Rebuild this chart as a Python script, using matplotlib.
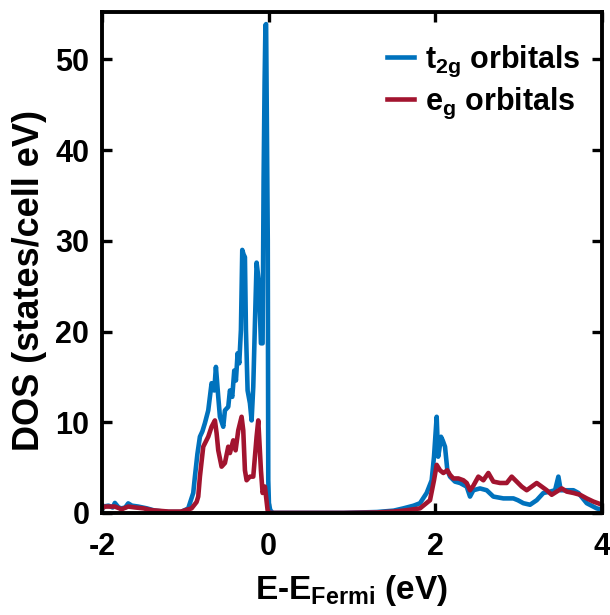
import matplotlib
matplotlib.use("Agg")
import matplotlib.pyplot as plt

# Projected DOS, energies relative to E_Fermi (eV), DOS in states/cell eV
E_T2G = [-2.0, -1.984, -1.92, -1.87, -1.844, -1.80, -1.764, -1.72, -1.684, -1.64,
         -1.564, -1.46, -1.364, -1.2, -1.05, -0.964, -0.904, -0.884, -0.854, -0.824,
         -0.794, -0.764, -0.724, -0.684, -0.652, -0.632, -0.604, -0.584, -0.544,
         -0.524, -0.484, -0.464, -0.436, -0.412, -0.392, -0.372, -0.352, -0.332,
         -0.316, -0.30, -0.284, -0.272, -0.252, -0.224, -0.204, -0.184, -0.164,
         -0.144, -0.130, -0.116, -0.092, -0.072, -0.060, -0.048, -0.038, -0.030,
         -0.010, -0.004, 0.004, 0.02, 0.05, 0.4, 0.9, 1.3, 1.5, 1.616, 1.74,
         1.816, 1.896, 1.956, 1.984, 2.016, 2.034, 2.048, 2.068, 2.088, 2.116,
         2.144, 2.176, 2.236, 2.296, 2.376, 2.416, 2.456, 2.536, 2.616, 2.696,
         2.816, 2.936, 2.99, 3.056, 3.136, 3.216, 3.296, 3.376, 3.436, 3.476,
         3.504, 3.576, 3.656, 3.716, 3.816, 3.936, 4.0]
DOS_T2G = [0.3, 0.7, 0.8, 0.6, 1.1, 0.6, 0.5, 0.6, 1.05, 0.8,
           0.7, 0.5, 0.25, 0.1, 0.1, 0.5, 2.2, 4.0, 6.5, 8.4,
           9.0, 9.9, 11.3, 14.3, 13.5, 16.1, 12.8, 10.6, 9.5,
           11.3, 11.7, 13.5, 12.8, 15.7, 14.6, 17.6, 16.5, 20.2,
           29.0, 28.5, 28.2, 20.2, 13.5, 12.1, 10.2, 13.9, 20.9,
           27.6, 26.5, 25.3, 18.7, 18.7, 36.7, 47.5, 53.8, 53.9,
           30.0, 3.6, 1.0, 0.3, 0.0, 0.0, 0.0, 0.1, 0.25, 0.5, 0.8,
           1.07, 2.2, 3.6, 6.2, 10.6, 6.2, 7.0, 8.4, 8.0, 7.3,
           4.7, 4.0, 3.45, 3.3, 2.9, 1.8, 2.5, 2.7, 2.5, 1.8,
           1.6, 1.6, 1.4, 1.07, 0.9, 1.4, 2.2, 2.35, 2.5, 4.0,
           2.5, 2.5, 2.5, 2.2, 1.07, 0.5, 0.35]

E_EG = [-2.0, -1.96, -1.844, -1.764, -1.684, -1.60, -1.50, -1.40, -1.2, -1.05,
        -0.924, -0.864, -0.844, -0.824, -0.784, -0.724, -0.684, -0.644, -0.624,
        -0.604, -0.564, -0.524, -0.484, -0.464, -0.424, -0.396, -0.364, -0.324,
        -0.304, -0.284, -0.264, -0.224, -0.184, -0.144, -0.124, -0.092, -0.072,
        -0.044, -0.012, 0.01, 0.05, 0.4, 0.9, 1.3, 1.5, 1.616, 1.74, 1.816,
        1.936, 1.984, 2.016, 2.056, 2.096, 2.144, 2.176, 2.216, 2.276, 2.336,
        2.376, 2.416, 2.456, 2.516, 2.576, 2.636, 2.696, 2.776, 2.856, 2.916,
        2.976, 3.036, 3.096, 3.156, 3.216, 3.276, 3.336, 3.396, 3.456, 3.516,
        3.576, 3.656, 3.736, 3.816, 3.896, 4.0]
DOS_EG = [0.5, 0.7, 0.7, 0.4, 0.7, 0.6, 0.5, 0.3, 0.15, 0.15,
          0.5, 1.2, 1.8, 4.0, 7.3, 8.4, 9.5, 10.2, 8.8,
          6.9, 5.1, 5.5, 7.3, 6.6, 8.0, 6.9, 9.1, 10.6,
          9.1, 4.7, 3.6, 4.0, 4.0, 8.4, 10.2, 4.7, 2.2,
          2.9, 0.3, 0.0, 0.0, 0.0, 0.0, 0.05, 0.15, 0.25, 0.4, 0.5,
          1.4, 3.6, 5.3, 4.7, 4.4, 4.7, 4.2, 3.8, 3.8, 3.6,
          3.3, 2.5, 3.0, 4.0, 3.6, 4.4, 3.45, 3.3, 3.3, 4.0,
          3.45, 2.9, 2.5, 2.9, 3.3, 2.9, 2.5, 2.0, 2.35, 2.7,
          2.35, 2.2, 2.0, 1.6, 1.25, 0.9]

C_T2G = "#0072BD"
C_EG = "#A2142F"

plt.rcParams.update({
    "font.family": ["Liberation Sans", "DejaVu Sans"],
    "font.weight": "bold",
    "axes.labelweight": "bold",
    "axes.unicode_minus": False,
    "mathtext.fontset": "custom",
    "mathtext.rm": "Liberation Sans:bold",
    "mathtext.it": "Liberation Sans:bold",
    "mathtext.bf": "Liberation Sans:bold",
    "mathtext.default": "rm",
})

fig = plt.figure(figsize=(6.1, 6.15), dpi=100)
ax = fig.add_axes([0.167, 0.166, 0.820, 0.814])

ax.plot(E_T2G, DOS_T2G, color=C_T2G, lw=3.3, label=r"t$_{2g}$ orbitals")
ax.plot(E_EG, DOS_EG, color=C_EG, lw=3.3, label=r"e$_{g}$ orbitals")

ax.set_xlim(-2, 4)
ax.set_ylim(0, 55.2)
ax.set_xticks([-2, 0, 2, 4])
ax.set_yticks([0, 10, 20, 30, 40, 50])
ax.tick_params(direction="in", length=7, width=2.4, labelsize=22,
               top=True, right=True)
ax.tick_params(axis="x", pad=14)
ax.tick_params(axis="y", pad=9)
for s in ax.spines.values():
    s.set_linewidth(2.8)

ax.set_xlabel(r"E-E$_{Fermi}$ (eV)", fontsize=24, labelpad=8)
ax.set_ylabel("DOS (states/cell eV)", fontsize=26)
ax.yaxis.set_label_coords(-0.11, 0.465)
ax.legend(loc="upper right", bbox_to_anchor=(0.975, 0.955), frameon=False,
          fontsize=22, handlelength=0.9, handletextpad=0.35, labelspacing=0.2,
          borderaxespad=0.0, borderpad=0.3)

fig.savefig("out.png", dpi=100)
